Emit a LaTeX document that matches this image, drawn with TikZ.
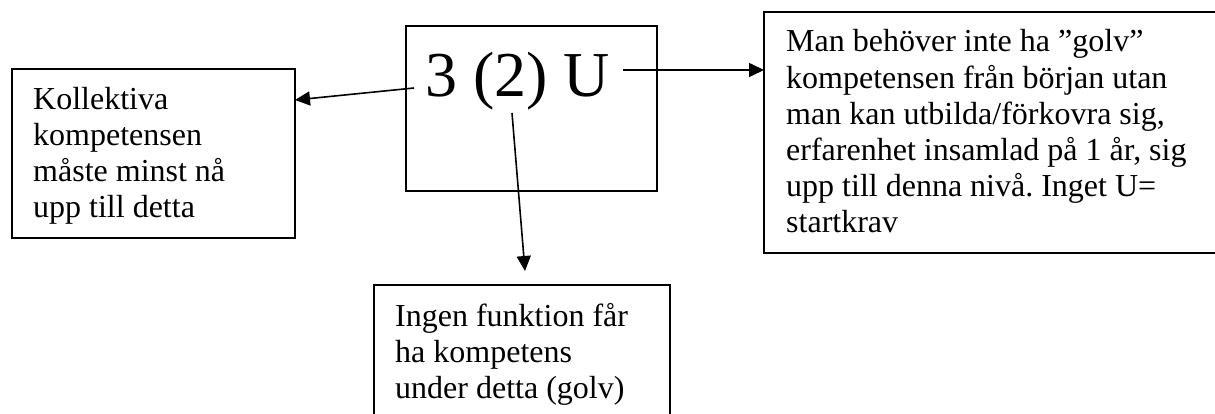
\documentclass[tikz,border=0pt]{standalone}
\usepackage{fontspec}
\setmainfont{Liberation Serif}
\usetikzlibrary{arrows.meta}
\frenchspacing
\begin{document}
\begin{tikzpicture}[x=1pt,y=-1pt,
  box/.style={draw, line width=1.8pt, inner sep=0pt, outer sep=0pt, anchor=north west},
  txt/.style={anchor=base west, inner sep=0pt, font=\fontsize{32}{36}\selectfont},
  arr/.style={line width=1.6pt, -{Triangle[length=15pt,width=14pt]}}]
\fill[white] (0,0) rectangle (1215,414);
\useasboundingbox (0,0) rectangle (1215,414);
% boxes
\node[box, minimum width=251pt, minimum height=165pt] (cbox) at (406,26) {};
\node[box, minimum width=283pt, minimum height=169pt] (lbox) at (12,69) {};
\node[box, minimum width=470pt, minimum height=241pt] (rbox) at (764,12) {};
\node[box, minimum width=296pt, minimum height=150pt] (bbox) at (374,285) {};
% texts
\node[anchor=base west, inner sep=0pt, font=\fontsize{64}{70}\selectfont] (ctext) at (425,97) {3 (2) U};
\node[txt] (ltext) at (33,110) {\parbox[t]{260pt}{\raggedright Kollektiva\\kompetensen\\måste minst nå\\upp till detta}};
\node[txt, font=\fontsize{32}{36.2}\selectfont] (rtext) at (786,52) {\parbox[t]{430pt}{\raggedright\frenchspacing Man behöver inte ha ”golv”\\kompetensen från början utan\\man kan utbilda/förkovra sig,\\erfarenhet insamlad på 1 år, sig\\upp till denna nivå. Inget U=\\startkrav}};
\node[txt] (btext) at (395,326) {\parbox[t]{270pt}{\raggedright Ingen funktion får\\ha kompetens\\under detta (golv)}};
% connectors
\coordinate (l0) at (414,88);
\coordinate (l1) at (lbox.north east |- 0,100);
\coordinate (r0) at (623,70);
\coordinate (r1) at (rbox.north west |- 0,70);
\coordinate (d0) at (512,113);
\coordinate (d1) at (525,271);
\draw[arr] (l0) -- (l1);
\draw[arr] (r0) -- (r1);
\draw[arr] (d0) -- (d1);
\end{tikzpicture}
\end{document}
